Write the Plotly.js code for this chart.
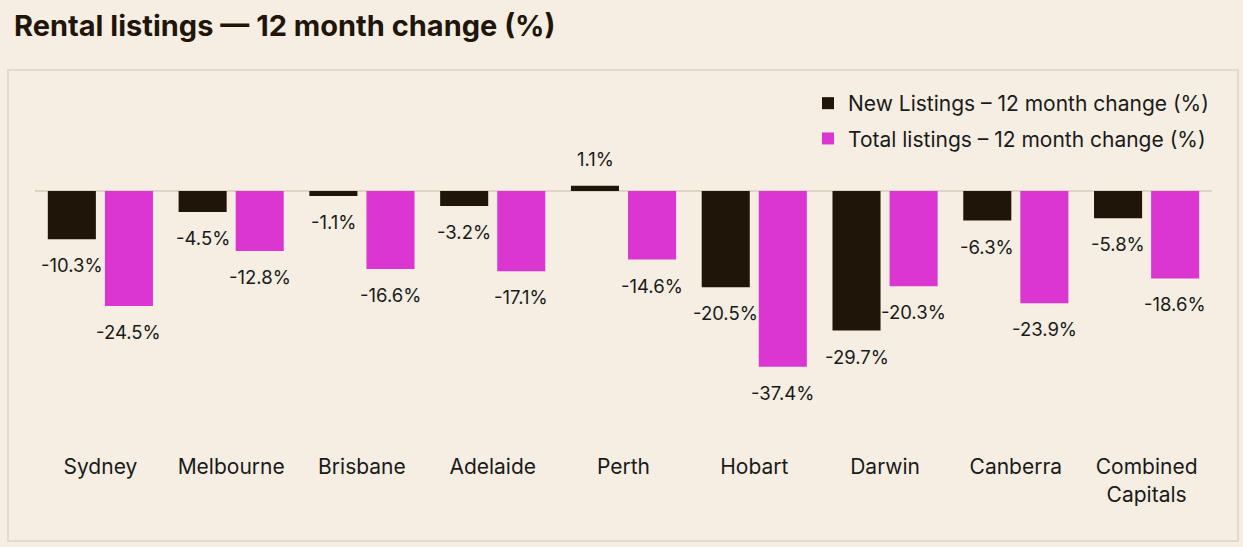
<!DOCTYPE html>
<html>
<head>
<meta charset="utf-8">
<script src="https://cdn.plot.ly/plotly-3.0.1.min.js"></script>
<style>
html,body{margin:0;padding:0;background:#f6eee2;}
#chart{width:1243px;height:547px;}
</style>
</head>
<body>
<div id="chart"></div>
<script>
const categories = ["Sydney","Melbourne","Brisbane","Adelaide","Perth","Hobart","Darwin","Canberra","Combined<br>Capitals"];
const newListings = [-10.3,-4.5,-1.1,-3.2,1.1,-20.5,-29.7,-6.3,-5.8];
const totalListings = [-24.5,-12.8,-16.6,-17.1,-14.6,-37.4,-20.3,-23.9,-18.6];
const seriesNames = ["New Listings – 12 month change (%)","Total listings – 12 month change (%)"];

const BLACK = "#1f1609";
const PINK = "#dc36d1";
const FONT = "Inter, 'Liberation Sans', sans-serif";

const traces = [
  {type:"bar", x:categories, y:newListings, name:seriesNames[0], marker:{color:BLACK}, legendgroup:"a", hoverinfo:"skip"},
  {type:"bar", x:categories, y:totalListings, name:seriesNames[1], marker:{color:PINK}, legendgroup:"b", hoverinfo:"skip"}
];

const annotations = [];
[newListings, totalListings].forEach((arr, si) => {
  arr.forEach((v, i) => {
    annotations.push({
      x: categories[i], y: v, xref:"x", yref:"y",
      text: v.toFixed(1) + "%",
      showarrow:false,
      xshift: si === 0 ? -28.5 : 28.5,
      yshift: v >= 0 ? 27 : -26,
      font:{family:FONT, size:18.5, color:"#1a1a1a"}
    });
  });
});

const layout = {
  width:1243, height:547,
  paper_bgcolor:"#f6eee2", plot_bgcolor:"rgba(0,0,0,0)",
  margin:{l:35, r:31, t:80, b:107},
  font:{family:FONT, color:"#1a1a1a"},
  title:{text:"<b>Rental listings — 12 month change (%)</b>", x:14/1243, xref:"container", xanchor:"left",
         y:1-26/547, yref:"container", yanchor:"middle",
         font:{family:FONT, size:29, color:"#1f1609"}},
  barmode:"group", bargap:0.127, bargroupgap:0.158,
  xaxis:{showgrid:false, zeroline:false, showline:false, ticks:"outside", ticklen:8, tickcolor:"rgba(0,0,0,0)",
         tickfont:{family:FONT, size:21, color:"#1a1a1a"}, fixedrange:true},
  yaxis:{range:[-52.98, 23.6], showgrid:false, zeroline:true, zerolinecolor:"#ddd4c6", zerolinewidth:2,
         showticklabels:false, fixedrange:true},
  legend:{x:(808-35)/1177, y:(440-83)/360, xanchor:"left", yanchor:"top", bgcolor:"rgba(0,0,0,0)",
          font:{family:FONT, size:21, color:"#1a1a1a"}, tracegroupgap:5, itemwidth:30},
  showlegend:true,
  annotations: annotations,
  shapes:[{type:"rect", xref:"paper", yref:"paper", x0:(8-35)/1177, x1:(1238-35)/1177,
           y0:(440-541)/360, y1:(440-70)/360, line:{color:"#e2dace", width:2}, fillcolor:"rgba(0,0,0,0)", layer:"below"}]
};

Plotly.newPlot("chart", traces, layout, {displayModeBar:false, staticPlot:true});
</script>
</body>
</html>
